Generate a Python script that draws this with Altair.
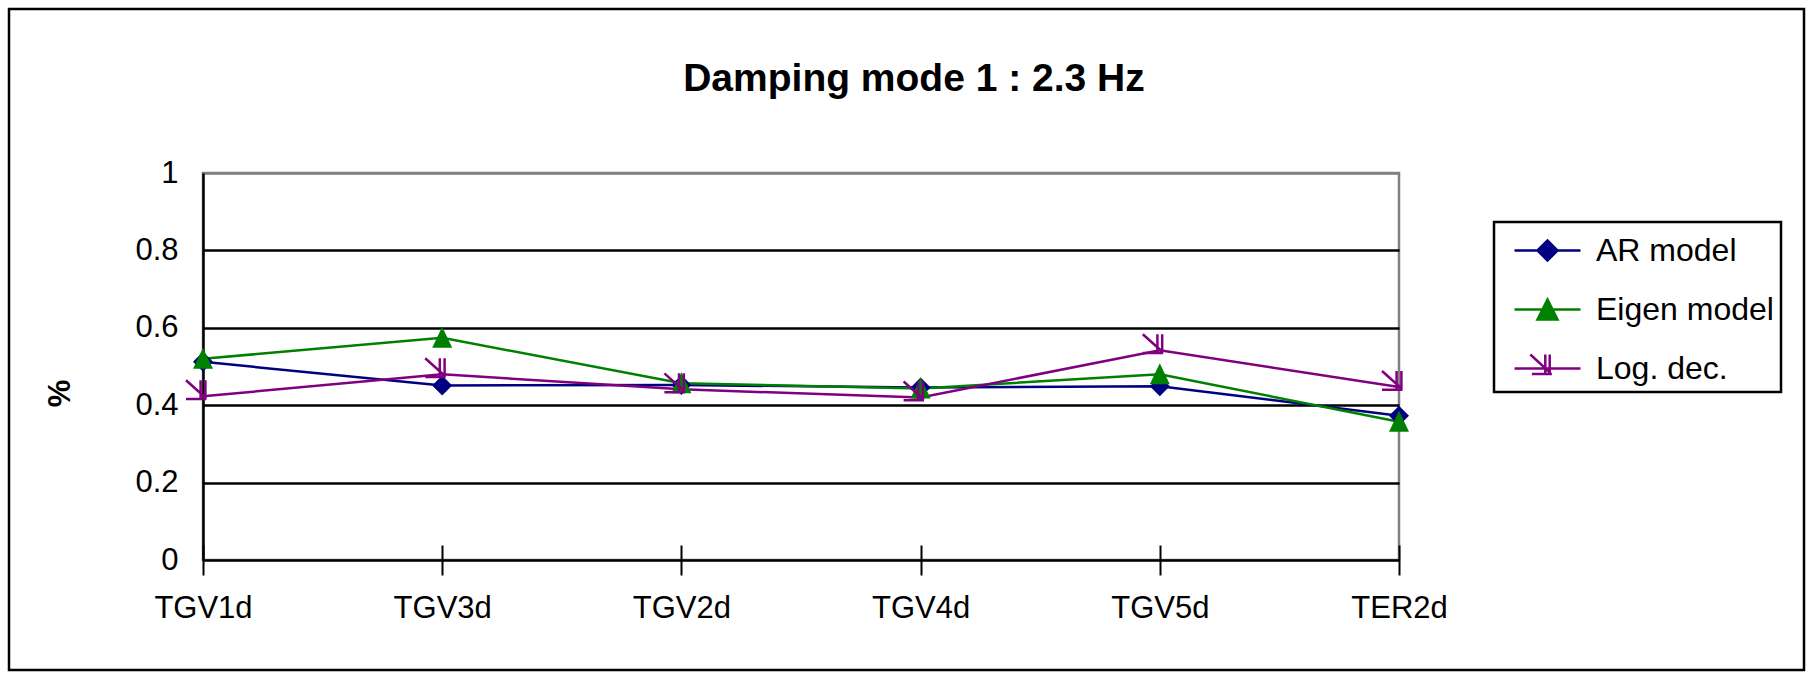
import altair as alt
import pandas as pd

FONT = "Liberation Sans"

categories = ["TGV1d", "TGV3d", "TGV2d", "TGV4d", "TGV5d", "TER2d"]
series_names = ["AR model", "Eigen model", "Log. dec."]
ar_model = [0.512, 0.451, 0.452, 0.446, 0.449, 0.373]
eigen_model = [0.520, 0.574, 0.457, 0.443, 0.480, 0.357]
log_dec = [0.423, 0.480, 0.441, 0.420, 0.542, 0.447]
y_ticks = [0, 0.2, 0.4, 0.6, 0.8, 1]
colors = ["#000080", "#008000", "#800080"]
title_text = "Damping mode 1 : 2.3 Hz"
y_title = "%"

rows = []
for name, vals in zip(series_names, [ar_model, eigen_model, log_dec]):
    for i, (c, v) in enumerate(zip(categories, vals)):
        rows.append({"category": c, "series": name, "value": v, "idx": i})
df = pd.DataFrame(rows)

# marker shapes (plot)
plot_paths = [
    "M-0.5,0L0,-0.5L0.5,0L0,0.5Z",
    "M-0.5,0.5L0,-0.55L0.5,0.5Z",
    "M-0.85,-0.8L0.1,0.05M-0.12,-0.8L-0.12,0.14M0.12,-0.8L0.12,0.14M-0.85,0.14L0.17,0.14",
]
# legend symbols (line + marker)
legend_paths = [
    "M-0.4,0L2.9,0M0.75,0L1.25,-0.5L1.75,0L1.25,0.5Z",
    "M-0.4,0L2.9,0M0.75,0.5L1.25,-0.5L1.75,0.5Z",
    "M-0.4,0L2.9,0M0.39,-0.7L1.39,0.22M1.14,-0.7L1.14,0.3M1.36,-0.7L1.36,0.3M0.47,0.27L1.47,0.27",
]

x_enc = alt.X(
    "category:N",
    sort=categories,
    scale=alt.Scale(type="point", padding=0),
    title=None,
    axis=alt.Axis(
        labelAngle=0, labelFontSize=31, labelFont=FONT, labelColor="black",
        labelPadding=18, labelFlush=False, labelOverlap=False,
        domain=False, grid=False, ticks=True, tickSize=30, tickColor="black",
        tickWidth=2, offset=-15,
    ),
)
y_enc = alt.Y(
    "value:Q",
    scale=alt.Scale(domain=[0, 1], nice=False, zero=True),
    title=y_title,
    axis=alt.Axis(
        values=y_ticks, format="~g", labelFontSize=31, labelFont=FONT,
        labelColor="black", labelPadding=25, ticks=False,
        domain=True, domainColor="black", domainWidth=2.5,
        grid=True, gridWidth=2.5,
        gridColor={"condition": {"test": "datum.value === 1", "value": "#808080"}, "value": "black"},
        titleFontSize=31, titleFont=FONT, titleFontWeight="bold", titleColor="black",
        titleX=-143, titleY=220, titleBaseline="middle",
    ),
)

base = alt.Chart(df)

line_layers = []
point_layers = []
for i, name in enumerate(series_names):
    sub = base.transform_filter(alt.datum.series == name)
    line_layers.append(
        sub.mark_line(strokeWidth=2.5, color=colors[i]).encode(x=x_enc, y=y_enc, order=alt.Order("idx:Q"))
    )
    if i < 2:
        mk = sub.mark_point(filled=True, color=colors[i], opacity=1, strokeWidth=1)
    else:
        mk = sub.mark_point(filled=False, color=colors[i], opacity=1, strokeWidth=2.5)
    point_layers.append(mk.encode(x=x_enc, y=y_enc, shape=alt.value(plot_paths[i]), size=alt.value(1600)))

leg = alt.Legend(
    title=None, orient="none", legendX=1291, legendY=49, direction="vertical",
    padding=7, strokeColor="black", labelFontSize=32, labelFont=FONT,
    labelColor="black", labelLimit=400, symbolSize=1600, symbolStrokeWidth=2.5,
    rowPadding=21, labelOffset=52, symbolOpacity=1,
)
# legend-only layer: its rows are filtered away, only the scales and legend remain
legend_layer = base.transform_filter("false").mark_point(opacity=1, strokeWidth=2.5).encode(
    x=x_enc, y=y_enc,
    fill=alt.Fill("series:N", scale=alt.Scale(domain=series_names, range=colors), legend=leg),
    stroke=alt.Stroke("series:N", scale=alt.Scale(domain=series_names, range=colors), legend=leg),
    shape=alt.Shape("series:N", scale=alt.Scale(domain=series_names, range=legend_paths), legend=leg),
)

border = alt.Chart(pd.DataFrame({"b": [0]})).mark_rect(
    fill="white", fillOpacity=0, stroke="black", strokeWidth=2.5
).encode(x=alt.value(-194), x2=alt.value(1601), y=alt.value(-164), y2=alt.value(497))

chart = alt.layer(border, *line_layers, *point_layers, legend_layer).properties(
    width=1196, height=387,
    autosize=alt.AutoSizeParams(type="none"),
    padding={"left": 203, "top": 173, "right": 413, "bottom": 119},
    title=alt.TitleParams(
        text=title_text, fontSize=39, fontWeight="bold", font=FONT, color="black",
        anchor="middle", dx=113, dy=126, baseline="alphabetic", offset=4,
    ),
).configure_view(stroke="#808080", strokeWidth=2.5).configure_legend(strokeWidth=2.5)

chart.save("out.html", embed_options={"renderer": "svg", "actions": False})
